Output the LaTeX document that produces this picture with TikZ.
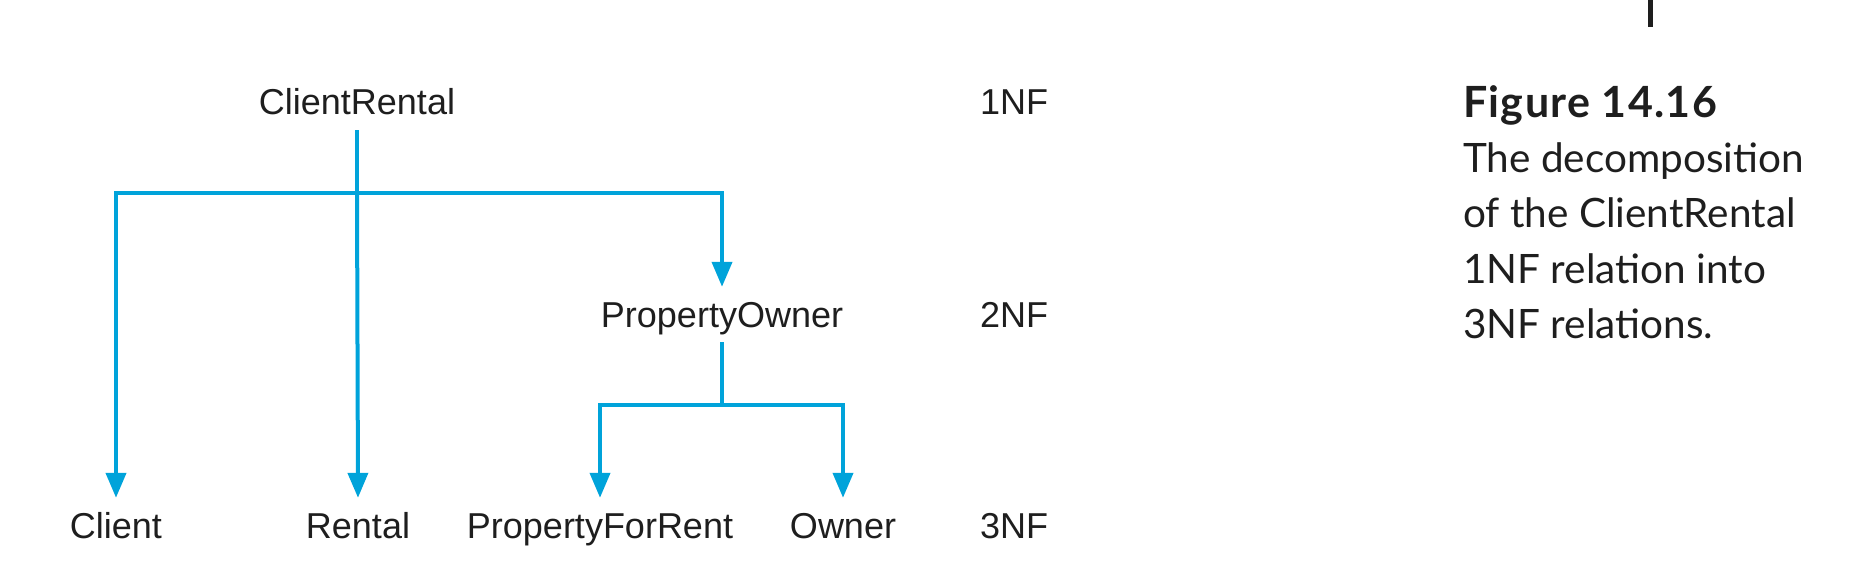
\documentclass[tikz,border=0pt]{standalone}
\usepackage{fontspec}
\setmainfont{Liberation Sans}
\newfontfamily\capfont{Lato}
\newfontfamily\captitlefont[LetterSpace=3]{Lato}
\usetikzlibrary{arrows.meta}
\definecolor{linkblue}{RGB}{0,163,218}
\definecolor{inkgray}{RGB}{30,30,30}
\tikzset{
  lbl/.style={font=\fontsize{36}{40}\selectfont, text=inkgray, anchor=base, inner xsep=0pt, inner ysep=15pt, text height=25pt, text depth=0pt},
  link/.style={draw=linkblue, line width=4pt},
  arr/.style={link, -{Triangle[width=20pt,length=25pt]}},
  capline/.style={font=\capfont\fontsize{40.5}{44}\selectfont, text=inkgray, anchor=base west, inner sep=0pt},
  captitle/.style={font=\captitlefont\bfseries\fontsize{43}{46}\selectfont, text=inkgray, anchor=base west, inner sep=0pt}
}
\begin{document}
\begin{tikzpicture}[x=1pt,y=-1pt]
\useasboundingbox (0,0) rectangle (1874,572);
% nodes
\node[lbl] (cr) at (357,115) {ClientRental};
\node[lbl] (po) at (722,327) {PropertyOwner};
\node[lbl] (cl) at (116,538) {Client};
\node[lbl] (re) at (358,538) {Rental};
\node[lbl] (pfr) at (600,538) {PropertyForRent};
\node[lbl] (ow) at (843,538) {Owner};
\node[lbl] (nf1) at (1014,115) {1NF};
\node[lbl] (nf2) at (1014,327) {2NF};
\node[lbl] (nf3) at (1014,538) {3NF};
% junctions
\coordinate (j1) at (357,193);
\coordinate (j2) at (722,405);
% connectors
\draw[link] (cr.south) -- (j1);
\draw[arr] (j1) -| (cl.north);
\draw[arr] (j1) -- (re.north);
\draw[arr] (j1) -| (po.north);
\draw[link] (po.south) -- (j2);
\draw[arr] (j2) -| (pfr.north);
\draw[arr] (j2) -| (ow.north);
% tick mark
\coordinate (tk) at (1650,0);
\coordinate (tkb) at (1650,27);
\draw[line width=5pt, inkgray] (tk) -- (tkb);
% caption
\node[captitle] (ct) at (1463,118) {Figure 14.16};
\node[capline] (c1) at (1463,173) {The decomposition};
\node[capline] (c2) at (1463,228) {of the ClientRental};
\node[capline] (c3) at (1463,283) {1NF relation into};
\node[capline] (c4) at (1463,338) {3NF relations.};
\end{tikzpicture}
\end{document}
